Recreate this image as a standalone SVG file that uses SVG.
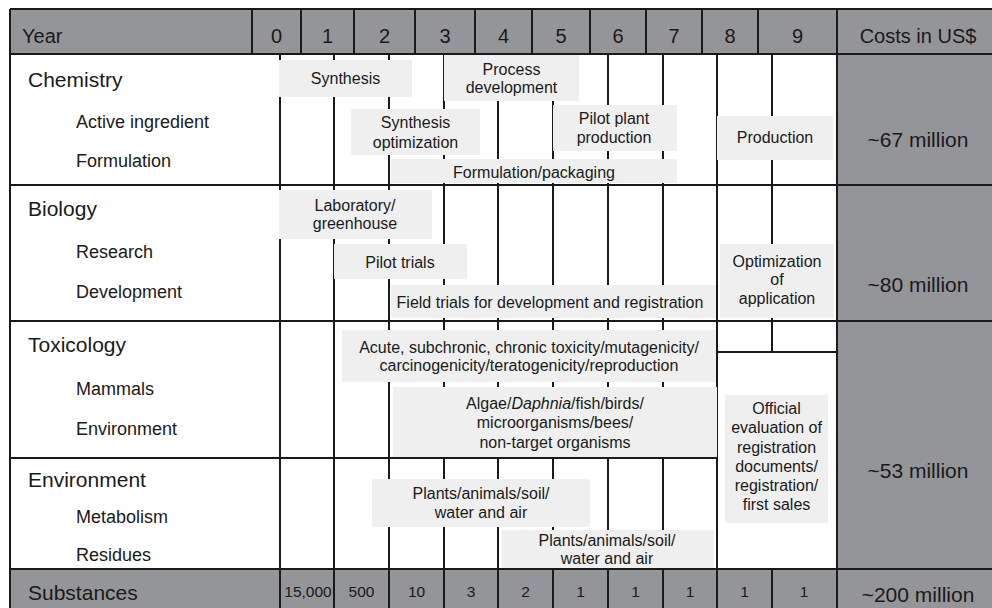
<svg xmlns="http://www.w3.org/2000/svg" width="992" height="608" viewBox="0 0 992 608">
  <style>
    .shade { fill: #949599; }
    .grid { stroke: #1a1a1a; stroke-width: 2; fill: none; }
    .bar { fill: #efefef; }
    text { font-family: "Liberation Sans", Arial, Helvetica, sans-serif; fill: #1a1a1a; }
    .hdr { font-size: 20px; }
    .num { font-size: 20px; text-anchor: middle; }
    .main { font-size: 21px; }
    .sub { font-size: 18px; }
    .lbl { font-size: 16px; text-anchor: middle; }
    .cost { font-size: 21px; text-anchor: middle; }
    .val { font-size: 15.5px; text-anchor: middle; }
  </style>

  <!-- background and shaded bands -->
  <rect x="0" y="0" width="992" height="608" fill="#ffffff"/>
  <g id="shading">
    <rect class="shade" x="10" y="9" width="982" height="45"/>
    <rect class="shade" x="837" y="54" width="155" height="554"/>
    <rect class="shade" x="10" y="569" width="982" height="39"/>
  </g>

  <!-- table rules -->
  <g id="grid" class="grid">
    <!-- outer and row rules -->
    <path d="M10 9H992 M10 54H992 M10 185H992 M10 321H992 M10 458H717 M717 352H837 M10 569H992 M10 9V608"/>
    <!-- header column rules -->
    <path d="M252 9V54 M301 9V54 M354 9V54 M415 9V54 M475 9V54 M532 9V54 M590 9V54 M646 9V54 M702 9V54 M758 9V54 M837 9V54"/>
    <!-- year columns -->
    <path d="M280 54V608 M334 54V608 M389 54V608 M444 54V608 M498 54V608 M553 54V608 M608 54V608 M663 54V608 M717 54V608 M772 54V352 M772 569V608 M837 54V608"/>
  </g>

  <!-- header row -->
  <g id="header">
    <text class="hdr" x="22" y="43">Year</text>
    <text class="num" x="276.5" y="42.5">0</text>
    <text class="num" x="327.5" y="42.5">1</text>
    <text class="num" x="384.5" y="42.5">2</text>
    <text class="num" x="445" y="42.5">3</text>
    <text class="num" x="503.5" y="42.5">4</text>
    <text class="num" x="561" y="42.5">5</text>
    <text class="num" x="618" y="42.5">6</text>
    <text class="num" x="674" y="42.5">7</text>
    <text class="num" x="730" y="42.5">8</text>
    <text class="num" x="797.5" y="42.5">9</text>
    <text class="num" x="918" y="43">Costs in US$</text>
  </g>

  <!-- Chemistry -->
  <g id="chemistry">
    <text class="main" x="28" y="87">Chemistry</text>
    <text class="sub" x="76" y="128">Active ingredient</text>
    <text class="sub" x="76" y="167">Formulation</text>
    <rect class="bar" x="279" y="60" width="133" height="37"/>
    <text class="lbl" x="345.5" y="84">Synthesis</text>
    <rect class="bar" x="444" y="55" width="135" height="46"/>
    <text class="lbl" x="511.5" y="74.5">Process</text>
    <text class="lbl" x="511.5" y="93">development</text>
    <rect class="bar" x="351" y="109" width="129" height="46"/>
    <text class="lbl" x="415.5" y="128">Synthesis</text>
    <text class="lbl" x="415.5" y="148">optimization</text>
    <rect class="bar" x="553" y="105" width="124" height="46"/>
    <text class="lbl" x="614" y="124">Pilot plant</text>
    <text class="lbl" x="614" y="143">production</text>
    <rect class="bar" x="717" y="116" width="116" height="44"/>
    <text class="lbl" x="775" y="143">Production</text>
    <rect class="bar" x="391" y="159" width="286" height="24"/>
    <text class="lbl" x="534" y="177.5">Formulation/packaging</text>
    <text class="cost" x="918" y="147">~67 million</text>
  </g>

  <!-- Biology -->
  <g id="biology">
    <text class="main" x="28" y="216">Biology</text>
    <text class="sub" x="76" y="258">Research</text>
    <text class="sub" x="76" y="298">Development</text>
    <rect class="bar" x="279" y="190" width="153" height="49"/>
    <text class="lbl" x="355" y="211">Laboratory/</text>
    <text class="lbl" x="355" y="229">greenhouse</text>
    <rect class="bar" x="334" y="244" width="133" height="35"/>
    <text class="lbl" x="400" y="268">Pilot trials</text>
    <rect class="bar" x="391" y="285" width="325" height="33"/>
    <text class="lbl" x="550" y="308">Field trials for development and registration</text>
    <rect class="bar" x="720" y="244" width="114" height="74"/>
    <text class="lbl" x="777" y="267">Optimization</text>
    <text class="lbl" x="777" y="285">of</text>
    <text class="lbl" x="777" y="304">application</text>
    <text class="cost" x="918" y="292">~80 million</text>
  </g>

  <!-- Toxicology -->
  <g id="toxicology">
    <text class="main" x="28" y="352">Toxicology</text>
    <text class="sub" x="76" y="395">Mammals</text>
    <text class="sub" x="76" y="435">Environment</text>
    <rect class="bar" x="342" y="330" width="374" height="52"/>
    <text class="lbl" x="529" y="353">Acute, subchronic, chronic toxicity/mutagenicity/</text>
    <text class="lbl" x="529" y="371">carcinogenicity/teratogenicity/reproduction</text>
    <rect class="bar" x="393" y="387" width="324" height="70"/>
    <text class="lbl" x="555" y="409">Algae/<tspan font-style="italic">Daphnia</tspan>/fish/birds/</text>
    <text class="lbl" x="555" y="428">microorganisms/bees/</text>
    <text class="lbl" x="555" y="448">non-target organisms</text>
  </g>

  <!-- Registration -->
  <g id="registration">
    <rect class="bar" x="725" y="395" width="103" height="128"/>
    <text class="lbl" x="776.5" y="414">Official</text>
    <text class="lbl" x="776.5" y="433">evaluation of</text>
    <text class="lbl" x="776.5" y="453">registration</text>
    <text class="lbl" x="776.5" y="472">documents/</text>
    <text class="lbl" x="776.5" y="491">registration/</text>
    <text class="lbl" x="776.5" y="510">first sales</text>
    <text class="cost" x="918" y="478">~53 million</text>
  </g>

  <!-- Environment -->
  <g id="environment">
    <text class="main" x="28" y="487">Environment</text>
    <text class="sub" x="76" y="523">Metabolism</text>
    <text class="sub" x="76" y="561">Residues</text>
    <rect class="bar" x="372" y="479" width="218" height="48"/>
    <text class="lbl" x="481" y="499">Plants/animals/soil/</text>
    <text class="lbl" x="481" y="518">water and air</text>
    <rect class="bar" x="502" y="530" width="212" height="38"/>
    <text class="lbl" x="607" y="546">Plants/animals/soil/</text>
    <text class="lbl" x="607" y="564">water and air</text>
  </g>

  <!-- Substances row -->
  <g id="substances">
    <text class="main" x="28" y="600">Substances</text>
    <text class="val" x="308" y="597">15,000</text>
    <text class="val" x="361.5" y="597">500</text>
    <text class="val" x="416.5" y="597">10</text>
    <text class="val" x="471" y="597">3</text>
    <text class="val" x="525.5" y="597">2</text>
    <text class="val" x="580.5" y="597">1</text>
    <text class="val" x="635.5" y="597">1</text>
    <text class="val" x="690" y="597">1</text>
    <text class="val" x="744.5" y="597">1</text>
    <text class="val" x="804" y="597">1</text>
    <text class="cost" x="918" y="602">~200 million</text>
  </g>
</svg>
